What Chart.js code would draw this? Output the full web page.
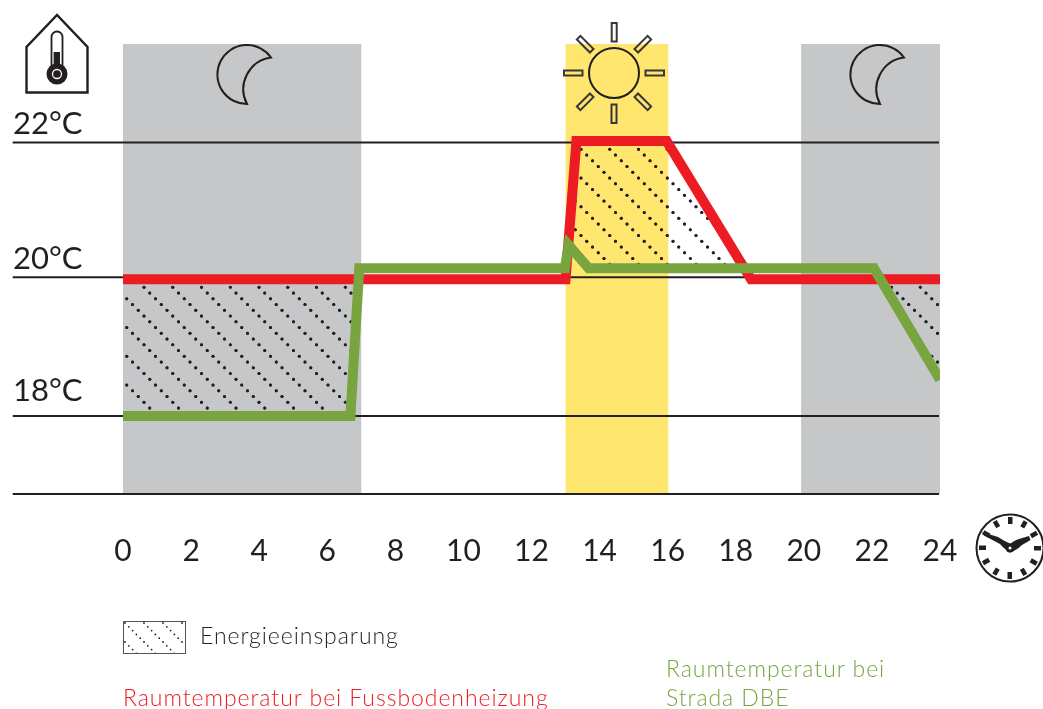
<!DOCTYPE html>
<html lang="de"><head><meta charset="utf-8">
<style>
html,body{margin:0;padding:0;background:#fff;overflow:hidden}
#wrap{position:relative;width:1043px;height:709px}
canvas{position:absolute;left:0;top:0}
svg{position:absolute;left:0;top:0;pointer-events:none}
.t{position:absolute;font-family:Lato,sans-serif;font-weight:300;font-size:23px;line-height:28px;white-space:nowrap;letter-spacing:.95px}
</style>
<script src="https://cdn.jsdelivr.net/npm/chart.js@4"></script>
</head><body><div id="wrap">
<canvas id="c" width="1043" height="709"></canvas>
<svg width="1043" height="709" viewBox="0 0 1043 709" fill="none" stroke="#231f20">
<defs><pattern id="h" patternUnits="userSpaceOnUse" width="19" height="19" x="123" y="621">
<circle cx="2" cy="2" r=".9" fill="#231f20" stroke="none"/><circle cx="5.8" cy="5.8" r=".9" fill="#231f20" stroke="none"/><circle cx="9.6" cy="9.6" r=".9" fill="#231f20" stroke="none"/><circle cx="13.4" cy="13.4" r=".9" fill="#231f20" stroke="none"/><circle cx="17.2" cy="17.2" r=".9" fill="#231f20" stroke="none"/>
</pattern></defs>
<!-- house -->
<path d="M26.5 92.5V47L57 15 87.5 47V92.5Z" stroke-width="2.4"/>
<path d="M51.5 68V37a5.5 5.5 0 0 1 11 0V68" stroke-width="1.8"/>
<rect x="54" y="52" width="6" height="18" fill="#231f20" stroke="none"/>
<rect x="52.2" y="52" width="1.8" height="18" fill="#a7a9ac" stroke="none"/>
<circle cx="57" cy="74" r="10.5" fill="#231f20" stroke="none"/>
<circle cx="57" cy="74" r="4.5" fill="none" stroke="#fff" stroke-width="1.3"/>
<!-- moons -->
<path id="m1" d="M271 57.5A29.5 29.5 0 1 0 247 104A32 32 0 0 1 271 57.5Z" stroke-width="2"/>
<path d="M904 57.5A29.5 29.5 0 1 0 880 104A32 32 0 0 1 904 57.5Z" stroke-width="2"/>
<!-- sun -->
<circle cx="614" cy="73" r="25" stroke-width="2"/>
<g stroke-width="2" stroke="#3a3637">
<rect x="611.7" y="23" width="5" height="18.5" transform="rotate(0 614 73)"/>
<rect x="611.5" y="23" width="5" height="18.5" transform="rotate(45 614 73)"/>
<rect x="611.5" y="23" width="5" height="18.5" transform="rotate(90 614 73)"/>
<rect x="611.5" y="23" width="5" height="18.5" transform="rotate(135 614 73)"/>
<rect x="611.5" y="23" width="5" height="18.5" transform="rotate(180 614 73)"/>
<rect x="611.5" y="23" width="5" height="18.5" transform="rotate(225 614 73)"/>
<rect x="611.5" y="23" width="5" height="18.5" transform="rotate(270 614 73)"/>
<rect x="611.5" y="23" width="5" height="18.5" transform="rotate(315 614 73)"/>
</g>
<!-- clock -->
<circle cx="1010" cy="548" r="33.5" stroke-width="2"/>
<g fill="#231f20" stroke="none">
<rect x="1008" y="517" width="4.5" height="7"/>
<rect x="1008" y="517" width="4.5" height="7" transform="rotate(30 1010 548)"/>
<rect x="1008" y="517" width="4.5" height="7" transform="rotate(60 1010 548)"/>
<rect x="1008" y="517" width="4.5" height="7" transform="rotate(90 1010 548)"/>
<rect x="1008" y="517" width="4.5" height="7" transform="rotate(120 1010 548)"/>
<rect x="1008" y="517" width="4.5" height="7" transform="rotate(150 1010 548)"/>
<rect x="1008" y="517" width="4.5" height="7" transform="rotate(180 1010 548)"/>
<rect x="1008" y="517" width="4.5" height="7" transform="rotate(210 1010 548)"/>
<rect x="1008" y="517" width="4.5" height="7" transform="rotate(240 1010 548)"/>
<rect x="1008" y="517" width="4.5" height="7" transform="rotate(270 1010 548)"/>
<rect x="1008" y="517" width="4.5" height="7" transform="rotate(300 1010 548)"/>
<rect x="1008" y="517" width="4.5" height="7" transform="rotate(330 1010 548)"/>
<path d="M982 532L984 535.5 1000 544Q1005 550 1011 552.5L1011 544Q1004 541 998 537Z"/>
<path d="M1029 536L1030.5 540 1022 545Q1016 551 1009 552.5L1010 544Q1015 540 1019 539Z"/>
<circle cx="1010" cy="548" r="4.5"/>
</g>
<circle cx="1010" cy="548" r="1.5" fill="#fff" stroke="none"/>
<!-- legend swatch -->
<rect x="123.5" y="621.5" width="62" height="32" fill="url(#h)" stroke="#555" stroke-width="1"/>
</svg>
<div class="t" style="left:200px;top:621px;color:#231f20">Energieeinsparung</div>
<div class="t" style="left:123px;top:683px;color:#ed1c24">Raumtemperatur bei Fussbodenheizung</div>
<div class="t" style="left:666px;top:654px;color:#78a540">Raumtemperatur bei</div>
<div class="t" style="left:666px;top:683px;color:#78a540">Strada DBE</div>
</div>
<script>
// ---- data ----
const hourTicks = [0,2,4,6,8,10,12,14,16,18,20,22,24];
const tempTicks = [18,20,22];
const floorX = [0,13.0,13.32,15.97,18.45,24];
const floorY = [20,20,22.02,22.02,20,20];
const stradaX = [0,6.68,6.94,12.98,13.09,13.68,22.06,24];
const stradaY = [18,18,20.16,20.16,20.5,20.16,20.16,18.53];
const gridX = [-3.24,23.97];
const grid22 = [22,22];
const grid20 = [20.03,20.03];
const grid18 = [18,18];
const baseLine = [16.86,16.86];
const nightBands = [[0,7],[19.92,24]];
const dayBands = [[13.0,16.02]];

const pts = (xs,ys)=>xs.map((x,i)=>({x,y:ys[i]}));

function hatch(){
  const p=document.createElement('canvas');p.width=115;p.height=115;
  const g=p.getContext('2d');g.fillStyle='#231f20';
  for(let i=0;i<20;i++){for(let j=0;j<4;j++){
    const x=i*5.75+0.25,y=(x-0.45+j*28.75+115)%115;
    for(const ox of [0,115])for(const oy of [-115,0,115]){
      g.beginPath();g.arc(x+ox,y+oy,1.5,0,7);g.fill();
      g.beginPath();g.arc(x-ox,y+oy,1.5,0,7);g.fill();
    }
  }}
  return document.getElementById('c').getContext('2d').createPattern(p,'repeat');
}
const bands={id:'bands',beforeDatasetsDraw(ch){
  const {ctx,scales:{x},chartArea:a}=ch;
  const draw=(list,col)=>{ctx.fillStyle=col;list.forEach(b=>{
    const l=x.getPixelForValue(b[0]),r=x.getPixelForValue(b[1]);
    ctx.fillRect(l,a.top,r-l,a.bottom-a.top);});};
  draw(nightBands,'#c6c7c9');draw(dayBands,'#ffe76f');
}};
const gridDs=(vals)=>({data:pts(gridX,vals),borderColor:'#231f20',borderWidth:2,pointRadius:0,fill:false,clip:false});
const FONT={family:'Lato',size:30,weight:'400'};
const labelLineHeight={18:'50px',20:'40px',22:'36px'};
new Chart(document.getElementById('c'),{
  type:'line',
  data:{datasets:[
    {label:'Raumtemperatur bei Strada DBE',data:pts(stradaX,stradaY),borderColor:'#78a540',borderWidth:10,pointRadius:0,tension:0,borderJoinStyle:'miter',borderCapStyle:'butt',fill:false,clip:0},
    {label:'Raumtemperatur bei Fussbodenheizung',data:pts(floorX,floorY),borderColor:'#ed1c24',borderWidth:10,pointRadius:0,tension:0,borderJoinStyle:'miter',borderCapStyle:'butt',clip:0,
      fill:{target:0,above:hatch(),below:'rgba(0,0,0,0)'}},
    gridDs(grid22),gridDs(grid20),gridDs(grid18),gridDs(baseLine)
  ]},
  options:{
    responsive:false,animation:false,
    layout:{padding:{top:44,right:103,left:13,bottom:0}},
    plugins:{legend:{display:false},tooltip:{enabled:false}},
    scales:{
      x:{type:'linear',min:0,max:24,
        afterBuildTicks(a){a.ticks=hourTicks.map(v=>({value:v}));},
        afterFit(a){a.height=215;},
        grid:{display:false},border:{display:false},
        ticks:{padding:31,maxRotation:0,autoSkip:false,color:'#231f20',font:FONT,callback:v=>String(v)}},
      y:{type:'linear',min:16.86,max:23.44,
        afterBuildTicks(a){a.ticks=tempTicks.map(v=>({value:v}));},
        afterFit(a){a.width=110;a.paddingTop=0;a.paddingBottom=0;},
        grid:{display:false},border:{display:false},
        ticks:{crossAlign:'far',padding:27,color:'#231f20',
          font:c=>({family:'Lato',size:31,weight:'400',lineHeight:labelLineHeight[c.tick?c.tick.value:22]}),
          callback:v=>[v+'°C','']}}
    }
  },
  plugins:[bands]
});
</script>
</body></html>
